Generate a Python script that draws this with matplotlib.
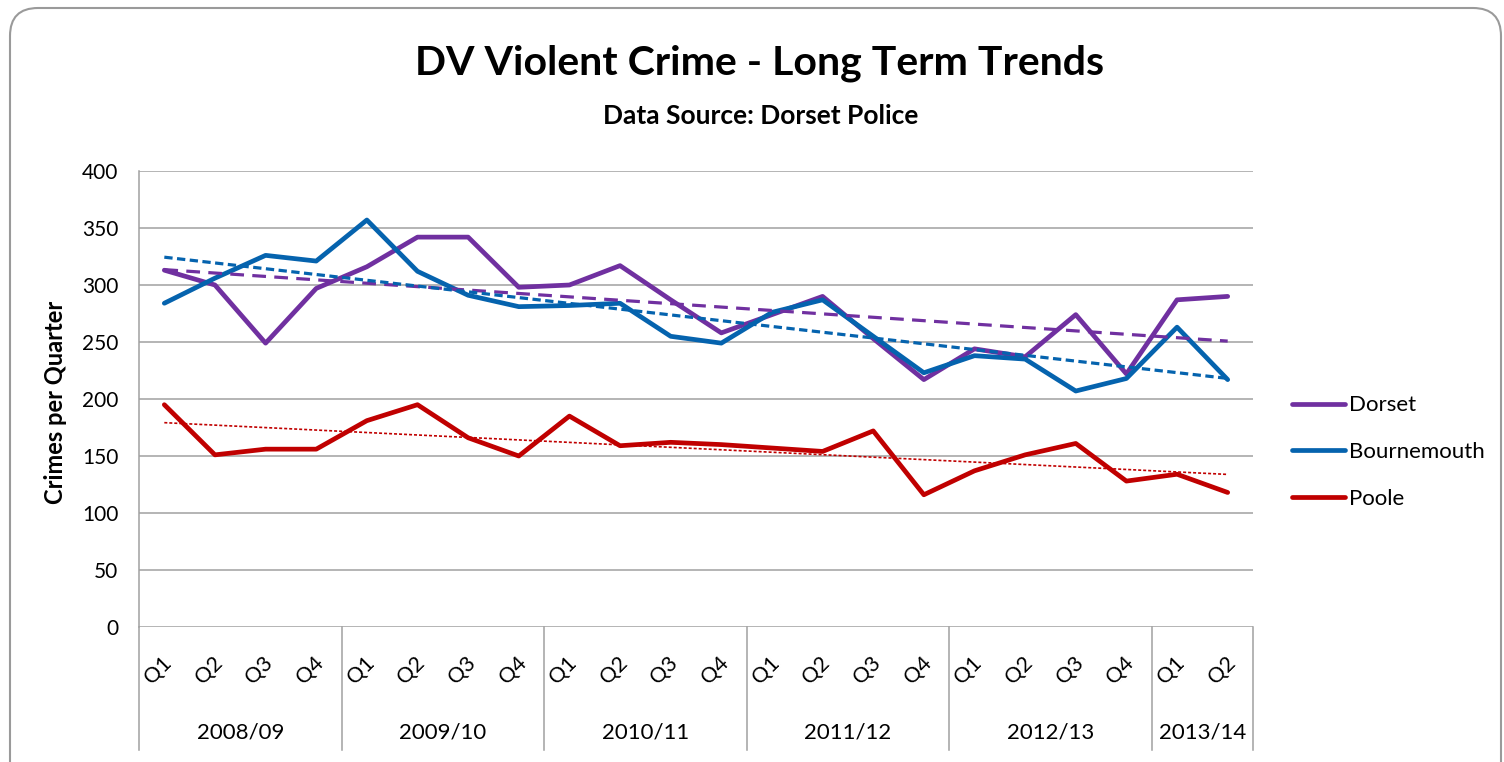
import numpy as np
import matplotlib.pyplot as plt
import matplotlib.transforms as mtransforms
from matplotlib.patches import FancyBboxPatch

plt.rcParams['font.family'] = ['Lato', 'DejaVu Sans']

quarters = ["Q1", "Q2", "Q3", "Q4"] * 5 + ["Q1", "Q2"]
years = ["2008/09", "2009/10", "2010/11", "2011/12", "2012/13", "2013/14"]
year_sizes = [4, 4, 4, 4, 4, 2]

dorset = [313, 300, 249, 297, 316, 342, 342, 298, 300, 317, 287, 258,
          274, 290, 253, 217, 244, 237, 274, 222, 287, 290]
bournemouth = [284, 306, 326, 321, 357, 312, 291, 281, 282, 284, 255, 249,
               276, 287, 255, 223, 238, 235, 207, 218, 263, 217]
poole = [195, 151, 156, 156, 181, 195, 166, 150, 185, 159, 162, 160,
         157, 154, 172, 116, 137, 151, 161, 128, 134, 118]

c_dorset = "#7030A0"
c_bourne = "#0563AE"
c_poole = "#C00000"
grid_c = "#A0A0A0"

W, H = 1504, 762
fig = plt.figure(figsize=(W / 100, H / 100), dpi=100)
ax = fig.add_axes([139 / W, 1 - 627 / H, (1253 - 139) / W, (627 - 171) / H])

x = np.arange(len(quarters))

ax.plot(x, dorset, color=c_dorset, lw=3.4, label="Dorset", solid_capstyle="round")
ax.plot(x, bournemouth, color=c_bourne, lw=3.4, label="Bournemouth", solid_capstyle="round")
ax.plot(x, poole, color=c_poole, lw=3.4, label="Poole", solid_capstyle="round")

# linear trendlines like excel
for vals, col, lw, dash in [(dorset, c_dorset, 2.3, (4.3, 2.6)),
                            (bournemouth, c_bourne, 2.3, (2.6, 1.4)),
                            (poole, c_poole, 1.2, (1.8, 1.2))]:
    m, b = np.polyfit(x, vals, 1)
    ax.plot(x, m * x + b, color=col, lw=lw, dashes=dash)

ax.set_xlim(-0.5, len(quarters) - 0.5)
ax.set_ylim(0, 400)
ax.set_yticks(range(0, 401, 50))
ax.yaxis.grid(True, color=grid_c, lw=1.1)
ax.set_axisbelow(True)
for s in ["top", "right", "bottom"]:
    ax.spines[s].set_visible(False)
ax.spines["left"].set_color(grid_c)
ax.spines["left"].set_linewidth(1.1)
ax.tick_params(axis="y", length=0, pad=15, labelsize=15)
ax.set_xticks([])

# category axis with two levels
trans = mtransforms.blended_transform_factory(ax.transData, ax.transAxes)
for i, q in enumerate(quarters):
    ax.text(i - 0.12, -0.095, q, rotation=45, ha="center", va="center",
            fontsize=15.5, transform=trans)
edges = np.concatenate([[0], np.cumsum(year_sizes)]) - 0.5
for e in edges:
    ax.plot([e, e], [0, -0.27], color=grid_c, lw=1.1, transform=trans, clip_on=False)
for k, yr in enumerate(years):
    ax.text((edges[k] + edges[k + 1]) / 2, -0.232, yr, ha="center", va="center",
            fontsize=16, transform=trans)

ax.set_ylabel("Crimes per Quarter", fontsize=17, fontweight="bold")
ax.yaxis.set_label_coords(67 / W, 1 - 402 / H, transform=fig.transFigure)

fig.text(760 / W, 1 - 63 / H, "DV Violent Crime - Long Term Trends",
         ha="center", va="center", fontsize=29.5, fontweight="bold")
fig.text(761 / W, 1 - 116 / H, "Data Source: Dorset Police",
         ha="center", va="center", fontsize=19, fontweight="bold")

fig.legend(loc="center left", bbox_to_anchor=(1272 / W, 1 - 452 / H),
           frameon=False, fontsize=16, handlelength=2.4, handletextpad=0.15,
           labelspacing=1.2)

border = FancyBboxPatch((10, -30), 1491, H - 8 + 30,
                        boxstyle="round,pad=0,rounding_size=28",
                        transform=None, fill=False, ec="#9A9A9A", lw=1.5)
fig.patches.append(border)

fig.savefig("out.png", dpi=100)
